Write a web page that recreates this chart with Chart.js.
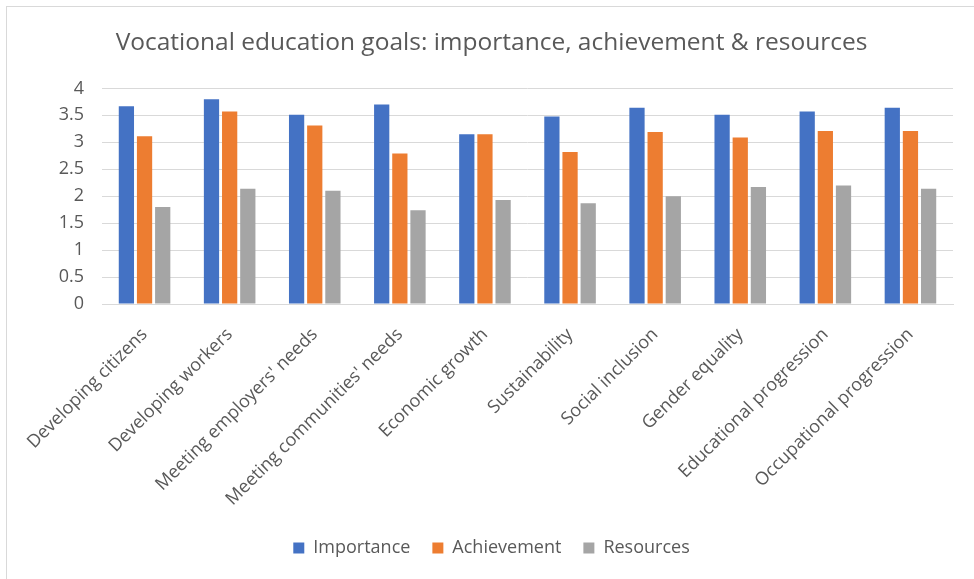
<!DOCTYPE html>
<html>
<head>
<meta charset="utf-8">
<script src="https://cdn.jsdelivr.net/npm/chart.js@4.4.1/dist/chart.umd.min.js"></script>
<style>
  html, body { margin: 0; padding: 0; background: #fff; }
  body { width: 974px; height: 579px; overflow: hidden; position: relative; }
  #frame { position: absolute; left: 6px; top: 6px; width: 1000px; height: 600px;
           border-left: 1px solid #d9d9d9; border-top: 1px solid #d9d9d9; }
  #wrap { position: absolute; left: 0; top: 0; width: 974px; height: 579px; }
</style>
</head>
<body>
<div id="frame"></div>
<div id="wrap"><canvas id="c" width="974" height="579"></canvas></div>
<script>
const categories = [
  "Developing citizens",
  "Developing workers",
  "Meeting employers' needs",
  "Meeting communities' needs",
  "Economic growth",
  "Sustainability",
  "Social inclusion",
  "Gender equality",
  "Educational progression",
  "Occupational progression"
];
const importance  = [3.67, 3.80, 3.51, 3.70, 3.15, 3.48, 3.64, 3.51, 3.57, 3.64];
const achievement = [3.11, 3.57, 3.31, 2.79, 3.15, 2.82, 3.19, 3.09, 3.21, 3.21];
const resources   = [1.80, 2.14, 2.10, 1.74, 1.93, 1.87, 2.00, 2.17, 2.20, 2.14];
const yTicks = [0, 0.5, 1, 1.5, 2, 2.5, 3, 3.5, 4];
const yTickLabels = ["0", "0.5", "1", "1.5", "2", "2.5", "3", "3.5", "4"];

const FONT = "'Open Sans', 'Noto Sans', sans-serif";
const TEXT = "#595959";

const bar = (label, data, color) => ({
  label, data, backgroundColor: color, borderWidth: 0,
  categoryPercentage: 0.64, barPercentage: 0.84
});

new Chart(document.getElementById("c"), {
  type: "bar",
  data: {
    labels: categories,
    datasets: [
      bar("Importance", importance, "#4472C4"),
      bar("Achievement", achievement, "#ED7D31"),
      bar("Resources", resources, "#A5A5A5")
    ]
  },
  options: {
    responsive: false,
    animation: false,
    layout: { padding: { left: 30, right: 21, top: 0, bottom: 12 } },
    plugins: {
      title: {
        display: true,
        text: "Vocational education goals: importance, achievement & resources",
        color: TEXT,
        font: { family: FONT, size: 24.5, weight: "normal" },
        padding: { top: 28, bottom: 31 }
      },
      legend: {
        position: "bottom",
        labels: {
          color: TEXT,
          font: { family: FONT, size: 18 },
          boxWidth: 11, boxHeight: 11, padding: 22
        }
      },
      tooltip: { enabled: false }
    },
    scales: {
      y: {
        min: 0, max: 4,
        afterBuildTicks: s => { s.ticks = yTicks.map(v => ({ value: v })); },
        afterFit: s => { s.width = 72; },
        ticks: {
          color: TEXT, font: { family: FONT, size: 18 }, padding: 18,
          callback: (v, i) => yTickLabels[i]
        },
        grid: { color: "#d9d9d9", lineWidth: 1, drawTicks: false },
        border: { display: false }
      },
      x: {
        afterFit: s => { s.height = 213; },
        ticks: {
          color: TEXT, font: { family: FONT, size: 18 },
          minRotation: 45, maxRotation: 45, padding: 12, autoSkip: false
        },
        grid: { display: false },
        border: { display: true, color: "#d9d9d9" }
      }
    }
  }
});
</script>
</body>
</html>
